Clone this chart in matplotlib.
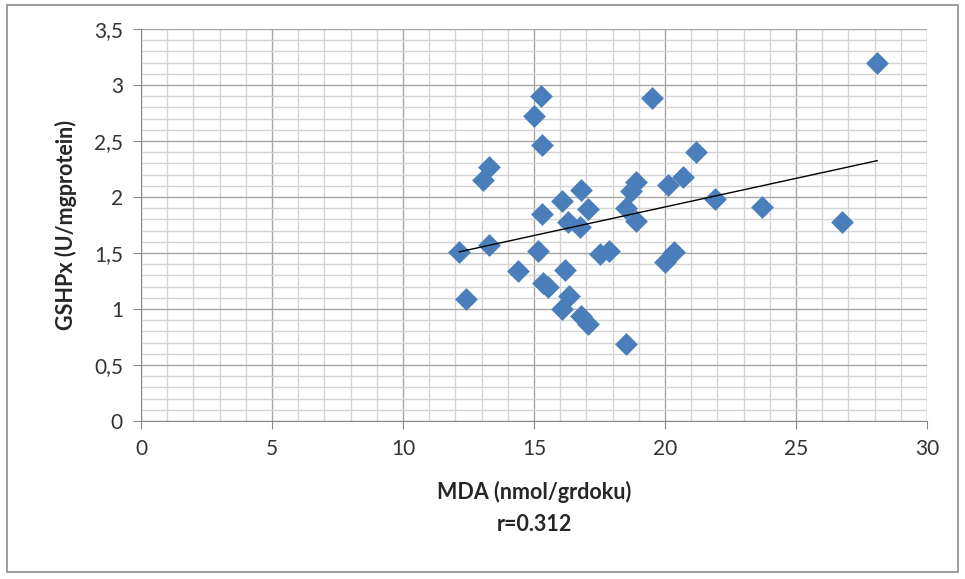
import matplotlib.pyplot as plt
import numpy as np
from matplotlib.patches import Rectangle
from matplotlib.ticker import MultipleLocator, FuncFormatter

# MDA (x) and GSHPx (y)
mda = [28.1, 19.5, 15.25, 15.0, 15.3, 21.2, 13.3, 13.05, 18.9, 18.7,
       20.1, 20.7, 16.8, 16.05, 17.05, 15.3, 21.9, 23.7, 26.75, 18.5,
       18.9, 16.3, 16.75, 13.3, 12.15, 15.15, 17.5, 17.85, 20.35, 20.0,
       14.4, 16.2, 15.35, 15.55, 16.35, 12.4, 16.05, 16.8, 17.05, 18.5]
gshpx = [3.2, 2.88, 2.9, 2.72, 2.46, 2.40, 2.27, 2.15, 2.13, 2.05,
         2.11, 2.18, 2.06, 1.96, 1.89, 1.85, 1.98, 1.91, 1.78, 1.90,
         1.79, 1.78, 1.73, 1.57, 1.51, 1.52, 1.49, 1.52, 1.51, 1.42,
         1.34, 1.35, 1.23, 1.20, 1.12, 1.09, 1.00, 0.94, 0.87, 0.69]

x_label = 'MDA (nmol/grdoku)\nr=0.312'
y_label = 'GSHPx (U/mgprotein)'

plt.rcParams['font.family'] = ['Lato', 'DejaVu Sans']

fig = plt.figure(figsize=(9.65, 5.79), dpi=100)
ax = fig.add_axes([141 / 965, 1 - 421 / 579, 786 / 965, 392 / 579])

# outer frame like the Excel chart area
fig.patches.append(Rectangle((7 / 965, 1 - 572 / 579), 951 / 965, 567 / 579,
                             transform=fig.transFigure, fill=False,
                             edgecolor='#8c8c8c', linewidth=1.2))

ax.scatter(mda, gshpx, marker='D', s=135, color='#4a7ebb', zorder=3,
           linewidths=0)

# linear trendline
slope, intercept = np.polyfit(mda, gshpx, 1)
xs = np.array([min(mda), max(mda)])
ax.plot(xs, slope * xs + intercept, color='black', linewidth=1, zorder=4)

ax.set_xlim(0, 30)
ax.set_ylim(0, 3.5)
ax.xaxis.set_major_locator(MultipleLocator(5))
ax.xaxis.set_minor_locator(MultipleLocator(1))
ax.yaxis.set_major_locator(MultipleLocator(0.5))
ax.yaxis.set_minor_locator(MultipleLocator(0.1))
ax.yaxis.set_major_formatter(FuncFormatter(lambda v, p: f'{v:g}'.replace('.', ',')))

ax.grid(which='major', color='#a6a6a6', linewidth=1)
ax.grid(which='minor', color='#d4d4d4', linewidth=1)
ax.set_axisbelow(True)

for side in ['top', 'right']:
    ax.spines[side].set_visible(False)
for side in ['left', 'bottom']:
    ax.spines[side].set_color('#888888')

ax.tick_params(which='major', length=6, color='#888888', labelsize=15,
               labelcolor='#333333', pad=7)
ax.tick_params(which='minor', length=0)

ax.set_xlabel(x_label, fontsize=15.5, fontweight='bold', color='#262626',
              labelpad=16, linespacing=1.6)
ax.set_ylabel(y_label, fontsize=15.5, fontweight='bold', color='#262626',
              labelpad=12)

fig.savefig('out.png', dpi=100)
